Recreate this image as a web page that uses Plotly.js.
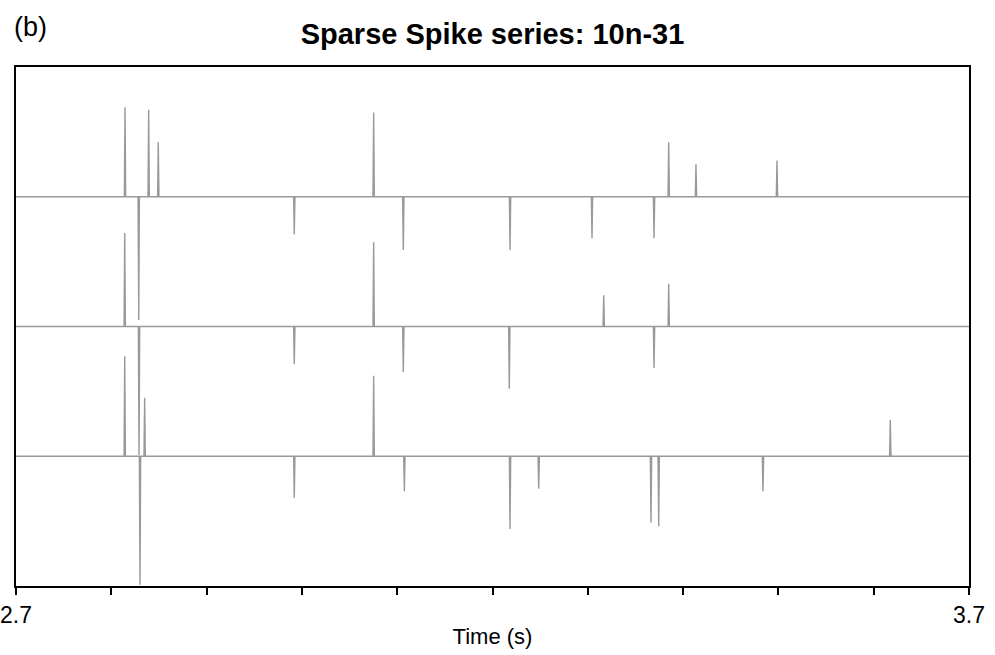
<!DOCTYPE html>
<html>
<head>
<meta charset="utf-8">
<script src="https://cdn.plot.ly/plotly-3.0.1.min.js"></script>
<style>
  html, body { margin: 0; padding: 0; background: #fff; }
  #chart { width: 995px; height: 655px; }
</style>
</head>
<body>
<div id="chart"></div>
<script>
// Spike times (s) and signed amplitudes (in units of channel spacing) for each channel
const ch1Times = [2.8144, 2.8288, 2.8392, 2.8493, 2.9920, 3.0753, 3.1064, 3.2184, 3.3044, 3.3695, 3.3849, 3.4135, 3.4985];
const ch1Amps  = [0.69, -0.95, 0.67, 0.42, -0.29, 0.65, -0.41, -0.41, -0.32, -0.32, 0.42, 0.25, 0.28];

const ch2Times = [2.8141, 2.8291, 2.9920, 3.0753, 3.1064, 3.2176, 3.3167, 3.3695, 3.3849];
const ch2Amps  = [0.72, -0.99, -0.29, 0.65, -0.35, -0.48, 0.24, -0.32, 0.33];

const ch3Times = [2.8141, 2.8301, 2.8350, 2.9920, 3.0753, 3.1075, 3.2184, 3.2485, 3.3663, 3.3744, 3.4838, 3.6174];
const ch3Amps  = [0.77, -0.99, 0.45, -0.32, 0.62, -0.27, -0.56, -0.25, -0.51, -0.54, -0.27, 0.28];

const tickValues = [2.7, 2.8, 2.9, 3.0, 3.1, 3.2, 3.3, 3.4, 3.5, 3.6, 3.7];
const tickLabels = ['2.7', '', '', '', '', '', '', '', '', '', '3.7'];

const tStart = 2.7, tEnd = 3.7;
const halfWidth = 0.0007;

// Build a flat trace with narrow triangular spikes around a baseline
function spikeTrace(times, amps, base) {
  const x = [tStart], y = [base];
  times.forEach((t, i) => {
    x.push(t - halfWidth, t, t + halfWidth);
    y.push(base, base + amps[i], base);
  });
  x.push(tEnd); y.push(base);
  return {
    x, y, type: 'scatter', mode: 'lines',
    line: { color: '#999999', width: 1.4 },
    hoverinfo: 'skip', showlegend: false, cliponaxis: true
  };
}

const data = [
  spikeTrace(ch1Times, ch1Amps, 3),
  spikeTrace(ch2Times, ch2Amps, 2),
  spikeTrace(ch3Times, ch3Amps, 1)
];

const layout = {
  width: 995, height: 655,
  margin: { l: 16, r: 26, t: 67, b: 69 },
  paper_bgcolor: '#fff', plot_bgcolor: '#fff',
  font: { family: 'Liberation Sans, Arial, sans-serif', color: '#000' },
  title: {
    text: '<b>Sparse Spike series: 10n-31</b>',
    font: { size: 29, family: 'Liberation Sans, Arial, sans-serif', color: '#000' },
    x: 0.5, xref: 'paper', xanchor: 'center',
    y: 0.948, yref: 'container', yanchor: 'middle'
  },
  xaxis: {
    range: [tStart, tEnd],
    tickmode: 'array', tickvals: tickValues, ticktext: tickLabels,
    ticks: 'outside', ticklen: 7, tickwidth: 2, tickcolor: '#000',
    tickfont: { size: 23 },
    showline: true, linecolor: '#000', linewidth: 2, mirror: true,
    showgrid: false, zeroline: false,
    title: { text: 'Time (s)', font: { size: 22 }, standoff: 2 }
  },
  yaxis: {
    range: [0, 4],
    showline: true, linecolor: '#000', linewidth: 2, mirror: true,
    showticklabels: false, ticks: '', showgrid: false, zeroline: false
  },
  annotations: [{
    text: '(b)', xref: 'paper', yref: 'paper',
    x: -0.004, y: 1.077, xanchor: 'left', yanchor: 'middle',
    showarrow: false, font: { size: 27, color: '#000' }
  }]
};

Plotly.newPlot('chart', data, layout, { displayModeBar: false, staticPlot: true });
</script>
</body>
</html>
